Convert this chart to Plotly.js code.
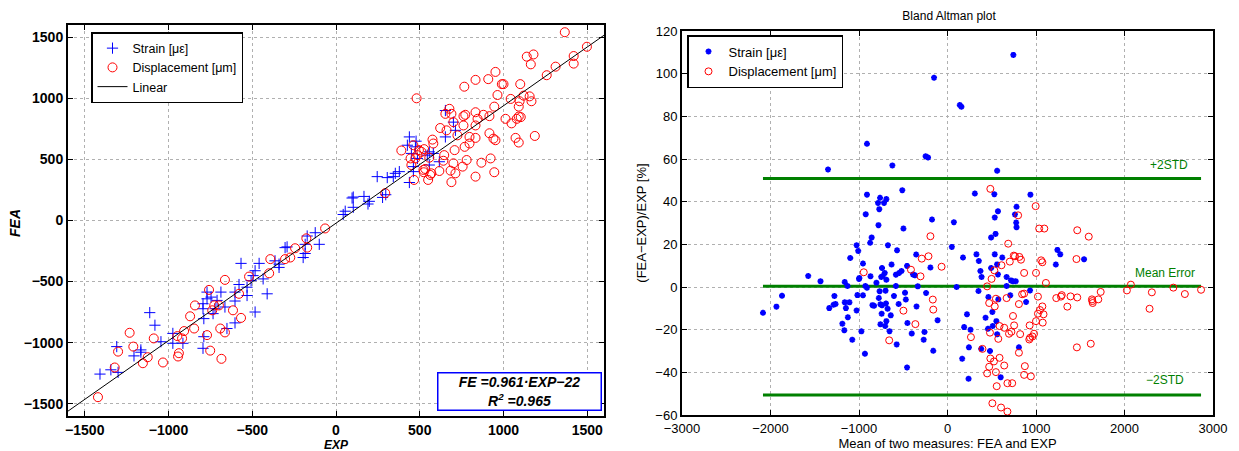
<!DOCTYPE html>
<html>
<head>
<meta charset="utf-8">
<script src="https://cdn.plot.ly/plotly-3.0.1.min.js"></script>
<style>html,body{margin:0;padding:0;background:#fff;}#chart{width:1239px;height:451px;}</style>
</head>
<body>
<div id="chart"></div>
<script>
// ---------- Left plot: FEA vs EXP ----------
const strainExp = [438,426,478,450,474,486,438,462,462,545,557,581,617,653,653,701,713,557,
  378,354,306,342,246,297,278,199,191,167,103,96,103,55,43,-124,-100,-172,-184,-184,-196,-304,-292,
  -340,-340,-364,-459,-567,-483,-495,-507,-435,-411,-483,-531,-531,-579,-603,-603,-663,-687,-710,
  -722,-734,-746,-770,-770,-794,-794,-789,-789,-794,-603,-651,-1112,-1081,-1165,-1165,-1206,-1045,
  -974,-974,-914,-1309,-1344,-1301,-1409];
const strainFea = [684,616,649,549,603,508,311,400,441,535,454,549,481,684,900,805,738,562,
  400,386,351,359,359,211,189,157,135,197,192,184,108,76,49,-100,-195,-127,-195,-270,-303,-222,-216,
  -357,-384,-330,-351,-351,-411,-451,-492,-478,-600,-749,-614,-546,-524,-586,-659,-708,-586,-654,
  -722,-762,-627,-641,-586,-681,-722,-803,-951,-1046,-838,-884,-754,-857,-1059,-1078,-1108,-992,
  -924,-1005,-1005,-1032,-1222,-1243,-1257];
const dispExp = [1366,1498,1419,1419,1311,1258,1139,1179,1163,952,909,833,766,990,1000,1100,964,1043,
  1120,1156,1167,1096,1091,1091,1103,1079,1012,1048,1072,1091,1187,481,677,689,653,701,761,772,833,
  880,916,945,833,845,761,622,660,725,797,833,768,797,708,646,641,701,780,756,713,684,689,833,868,
  923,916,940,952,945,617,576,581,557,562,550,533,522,510,495,462,486,474,450,445,390,466,526,569,524,
  294,-65,-177,-172,-244,-273,-304,-392,-399,-519,-663,-579,-758,-842,-871,-615,-567,-727,-739,-699,
  -770,-691,-663,-847,-751,-684,-907,-919,-947,-938,-943,-1033,-1088,-1124,-1153,-1210,-1232,-1301,
  -1321,-1421];
const dispFea = [1541,1422,1346,1284,1259,1189,1341,1359,1278,1216,1157,1151,1095,1116,1116,1116,1027,995,
  1022,1016,976,976,932,851,846,832,832,795,676,638,692,1000,914,873,873,805,854,865,886,
  865,854,932,778,832,778,757,738,697,684,676,603,630,576,535,489,468,495,441,386,408,314,359,473,
  508,714,670,657,395,405,662,630,514,373,332,422,414,562,576,616,535,508,454,508,573,332,584,386,395,
  224,-65,-146,-222,-227,-303,-316,-316,-432,-459,-486,-600,-568,-695,-784,-735,-797,-695,-735,-695,
  -938,-884,-916,-884,-1065,-1132,-905,-965,-946,-1086,-1113,-1162,-965,-1119,-1168,-1032,-919,-1073,
  -1203,-1446];
const linearExp = [-1600, 1600];
const linearFea = [-1560, 1516];
const fitText = ['FE =0.961·EXP−22', 'R<sup>2</sup> =0.965'];
const leftTicks = [-1500, -1000, -500, 0, 500, 1000, 1500];
const leftTickText = ['−1500', '−1000', '−500', '0', '500', '1000', '1500'];

// ---------- Right plot: Bland Altman ----------
const baStrainMean = [744,-152,139,157,-910,-247,-220,-623,-1350,561,-511,-910,-762,-691,-785,-717,-771,-924,
  -780,-498,-857,-874,-673,-1027,-1009,-570,-1099,-175,72,49,175,-354,-193,-457,-390,-368,-520,-547,
  -583,-632,-740,-709,-731,-749,-691,-870,-955,-996,-1000,-1574,-1435,-1161,-1130,-928,-910,-803,-583,
  -336,103,-1870,-1278,-1018,-955,-480,-471,-605,-700,-767,-776,-242,-1933,-2085,-1336,-1287,-1265,
  -1161,-1108,-1148,-1126,-1027,-830,-848,-758,-695,-740,-677,-552,-744,-641,-350,-1188,-1166,-973,
  -1076,-758,-691,-704,-655,-453,-260,-404,-269,-574,-933,-161,-112,-457,937,529,309,780,570,762,776,
  780,534,543,493,1242,1274,1543,1224,327,534,619,354,668,372,385,493,560,570,717,740,771,668,933,350,
  709,462,574,507,888,220,552,511,457,188,430,260,561,242,807,381,480,166,601,238];
const baStrainPct = [108.8,98.1,85.3,84.5,67.1,61.3,60.7,57.0,55.1,54.5,45.4,43.3,41.8,41.2,39.4,39.4,36.5,34.1,
  29.0,27.4,23.2,20.7,19.6,19.6,16.9,17.2,13.6,31.6,30.4,18.8,13.8,15.2,9.1,9.9,5.9,5.5,7.5,6.6,
  5.8,10.5,8.9,6.6,5.2,4.7,3.4,5.0,11.0,4.2,3.8,5.2,2.7,2.3,0.5,0.5,-0.3,2.0,0.5,
  0.3,0,-4.1,-4.2,-3.8,-3.9,-2.7,-5.9,-4.2,-1.7,-2.0,-5.2,-2.8,-9.2,-12.1,-9.9,-8.3,-8.0,
  -7.2,-7.2,-9.9,-14.2,-11.0,-8.8,-8.5,-8.1,-7.7,-8.6,-10.2,-8.0,-12.5,-13.3,-9.1,-17.2,-20.3,-20.8,
  -24.7,-17.5,-16.0,-18.3,-20.7,-16.9,-21.1,-21.8,-24.7,-26.9,-31.3,-29.9,-15.6,-37.7,43.3,43.5,43.8,37.6,35.5,34.0,30.2,
  28.0,32.6,24.9,23.2,17.4,15.3,13.0,10.5,15.3,15.3,13.8,12.2,4.7,7.5,4.7,8.9,10.6,5.9,3.1,2.7,2.7,0.5,-1.6,-1.9,
  -3.9,-4.7,-5.8,-11.7,-7.0,-12.8,-16.0,-18.3,-19.6,-18.8,-14.4,-20.0,-22.1,-28.3,-28.3,-29.0,-30.0,-33.6,-42.3,-43.0];
const baDispMean = [484,996,798,1036,1094,1466,1596,-193,686,-291,-215,749,762,812,830,704,610,-67,-413,-946,
  1058,1072,1457,866,1000,529,-305,498,448,1112,2072,2552,2865,2027,2309,2682,1731,866,843,1022,1291,1282,
  1390,1466,1229,1632,1704,1637,1641,-166,668,547,471,534,807,1354,1072,1045,1022,1085,2283,-161,-498,740,
  1000,1076,928,753,641,588,-363,978,960,933,924,821,695,722,480,574,265,-659,1619,1462,395,807,588,484,
  525,641,874,471,547,448,866,942,556,677,731,507,605,677];
const baDispPct = [46.0,37.9,33.6,27.4,27.4,26.6,23.6,23.8,20.3,13.3,14.4,14.7,14.4,14.1,12.8,11.9,10.2,9.5,8.1,6.9,
  12.5,11.6,13.1,6.6,6.6,7.8,5.0,3.8,0.3,1.9,1.1,-0.3,-1.3,-1.6,-2.5,-3.3,-2.3,-3.1,-3.4,-4.5,-3.8,-4.5,
  -4.4,-4.9,-5.2,-5.8,-5.8,-6.6,-7.5,-5.9,-5.2,-5.5,-7.5,-9.1,-8.0,-9.2,-9.1,-10.8,-12.5,-12.8,-10.2,-10.6,-11.1,-13.6,
  -16.0,-16.7,-18.0,-18.0,-19.1,-18.3,-17.4,-21.9,-23.2,-23.8,-24.6,-22.1,-21.9,-21.0,-21.4,-24.3,-23.5,-25.0,-26.6,-28.3,-29.0,-30.8,-33.2,-33.5,
  -34.9,-36.8,-37.1,-37.4,-39.9,-40.5,-41.2,-41.9,-46.5,-45.1,-45.1,-54.5,-56.5,-58.4];
const limitX = [-2085, 2865];
const upperLimit = 50.9;
const meanError = 0.4;
const lowerLimit = -50.6;
const limitLabels = ['+2STD', 'Mean Error', '−2STD'];

const FONT = 'Liberation Sans, Arial, Helvetica, sans-serif';
const GREEN = '#008000';

const traces = [
  {x: strainExp, y: strainFea, type: 'scatter', mode: 'markers', name: 'Strain [με]',
   xaxis: 'x', yaxis: 'y', legend: 'legend',
   marker: {symbol: 'cross-thin-open', size: 8, color: '#0000ff', line: {color: '#0000ff', width: 1}}},
  {x: dispExp, y: dispFea, type: 'scatter', mode: 'markers', name: 'Displacement [μm]',
   xaxis: 'x', yaxis: 'y', legend: 'legend',
   marker: {symbol: 'circle-open', size: 9, color: '#ff0000', line: {color: '#ff0000', width: 1}}},
  {x: linearExp, y: linearFea, type: 'scatter', mode: 'lines', name: 'Linear',
   xaxis: 'x', yaxis: 'y', legend: 'legend', line: {color: '#000', width: 1}},

  {x: limitX, y: [upperLimit, upperLimit], type: 'scatter', mode: 'lines', showlegend: false,
   xaxis: 'x2', yaxis: 'y2', line: {color: GREEN, width: 3}},
  {x: limitX, y: [meanError, meanError], type: 'scatter', mode: 'lines', showlegend: false,
   xaxis: 'x2', yaxis: 'y2', line: {color: GREEN, width: 3}},
  {x: limitX, y: [lowerLimit, lowerLimit], type: 'scatter', mode: 'lines', showlegend: false,
   xaxis: 'x2', yaxis: 'y2', line: {color: GREEN, width: 3}},
  {x: baStrainMean, y: baStrainPct, type: 'scatter', mode: 'markers', name: 'Strain [με]',
   xaxis: 'x2', yaxis: 'y2', legend: 'legend2',
   marker: {symbol: 'asterisk-open', size: 5, color: '#0000ff', line: {color: '#0000ff', width: 1.8}}},
  {x: baDispMean, y: baDispPct, type: 'scatter', mode: 'markers', name: 'Displacement [μm]',
   xaxis: 'x2', yaxis: 'y2', legend: 'legend2',
   marker: {symbol: 'circle-open', size: 7, color: '#ff0000', line: {color: '#ff0000', width: 1}}}
];

const axisCommon = {
  showline: true, linecolor: '#000', linewidth: 2, mirror: 'ticks',
  ticks: 'inside', ticklen: 5, tickcolor: '#000', tickwidth: 1,
  showgrid: true, gridcolor: '#b0b0b0', griddash: 'dot', gridwidth: 1,
  zeroline: false, automargin: false
};

const layout = {
  width: 1239, height: 451,
  margin: {l: 0, r: 0, t: 0, b: 0},
  paper_bgcolor: '#fff', plot_bgcolor: '#fff',
  font: {family: FONT, size: 13, color: '#000'},
  title: {text: 'Bland Altman plot', x: 0.766, xanchor: 'center', y: 0.965, yanchor: 'middle',
          font: {family: FONT, size: 12, color: '#000'}},
  xaxis: Object.assign({}, axisCommon, {
    domain: [68/1239, 604/1239], range: [-1600, 1600],
    tickvals: leftTicks, ticktext: leftTickText,
    tickfont: {family: 'Liberation Sans', size: 14, weight: 700}, anchor: 'y'}),
  yaxis: Object.assign({}, axisCommon, {
    domain: [35/451, 426/451], range: [-1600, 1600],
    tickvals: leftTicks, ticktext: leftTickText,
    tickfont: {family: 'Liberation Sans', size: 14, weight: 700}, anchor: 'x'}),
  xaxis2: Object.assign({}, axisCommon, {
    domain: [682/1239, 1213/1239], range: [-3000, 3000], dtick: 1000, tick0: 0,
    tickfont: {family: FONT, size: 13}, anchor: 'y2',
    title: {text: 'Mean of two measures: FEA and EXP', standoff: 1, font: {family: FONT, size: 13}}}),
  yaxis2: Object.assign({}, axisCommon, {
    domain: [36/451, 420/451], range: [-60, 120], dtick: 20, tick0: 0,
    tickfont: {family: FONT, size: 13}, anchor: 'x2',
    title: {text: '(FEA−EXP)/EXP [%]', standoff: 6, font: {family: FONT, size: 13}}}),
  legend: {x: 91/1239, y: 419/451, xanchor: 'left', yanchor: 'top',
           bgcolor: '#fff', bordercolor: '#000', borderwidth: 1.5,
           font: {family: FONT, size: 12.5}, tracegroupgap: 0, itemwidth: 30},
  legend2: {x: 687/1239, y: 416/451, xanchor: 'left', yanchor: 'top',
           bgcolor: '#fff', bordercolor: '#000', borderwidth: 1.5,
           font: {family: FONT, size: 13}, tracegroupgap: 0, itemwidth: 30},
  annotations: [
    {xref: 'paper', yref: 'paper', x: 336/1239, y: 6/451, xanchor: 'center', yanchor: 'middle',
     text: '<b><i>EXP</i></b>', showarrow: false, font: {family: FONT, size: 12}},
    {xref: 'paper', yref: 'paper', x: 15/1239, y: 228/451, xanchor: 'center', yanchor: 'middle',
     text: '<b><i>FEA</i></b>', textangle: -90, showarrow: false, font: {family: FONT, size: 14}},
    {xref: 'paper', yref: 'paper', x: 519/1239, y: 60/451, xanchor: 'center', yanchor: 'middle',
     text: '<b><i>' + fitText[0] + '</i></b><br><b><i>' + fitText[1] + '</i></b>',
     showarrow: false, align: 'center', width: 160, height: 34,
     bordercolor: '#0000ff', borderwidth: 1.5, bgcolor: '#fff', borderpad: 1,
     font: {family: FONT, size: 14, color: '#000'}},
    {xref: 'x2', yref: 'y2', x: 2740, y: upperLimit + 2, xanchor: 'right', yanchor: 'bottom',
     text: limitLabels[0], showarrow: false, font: {family: FONT, size: 12, color: GREEN}},
    {xref: 'x2', yref: 'y2', x: 2820, y: meanError + 2, xanchor: 'right', yanchor: 'bottom',
     text: limitLabels[1], showarrow: false, font: {family: FONT, size: 12, color: GREEN}},
    {xref: 'x2', yref: 'y2', x: 2700, y: lowerLimit + 3, xanchor: 'right', yanchor: 'bottom',
     text: limitLabels[2], showarrow: false, font: {family: FONT, size: 12, color: GREEN}}
  ]
};

Plotly.newPlot('chart', traces, layout, {displayModeBar: false, staticPlot: true});
</script>
</body>
</html>
